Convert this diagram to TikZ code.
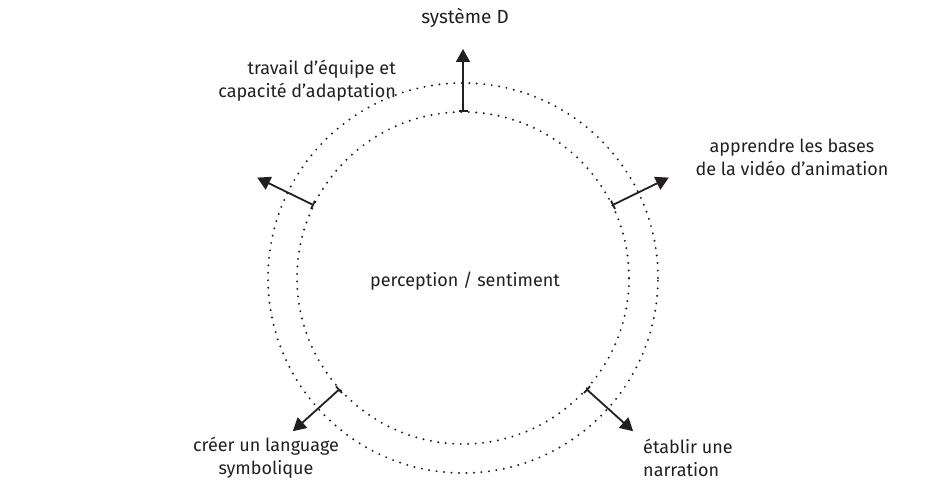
\documentclass[tikz,border=0pt]{standalone}
\usepackage{fontspec}
\setmainfont{Fira Sans}
\usetikzlibrary{arrows.meta,calc}
\definecolor{ink}{HTML}{231F20}
\begin{document}
\begin{tikzpicture}[x=1pt,y=1pt,
  ring/.style={draw=ink, line width=2.2pt, line cap=round, dash pattern=on 0pt off 7.5pt},
  arr/.style={draw=ink, line width=1.8pt, {Bar[width=9pt]}-{Triangle[length=13pt,width=14pt]}},
  lbl/.style={font=\fontsize{18}{23}\selectfont, text=ink, inner sep=0pt}]
\useasboundingbox (0,0) rectangle (932,491);
\coordinate (c) at (463,213);
\draw[ring] (c) circle[radius=166];
\draw[ring] (c) circle[radius=195];
\foreach \n/\a in {1/90, 2/26, 3/154, 4/-42, 5/222}{
  \coordinate (t\n) at ($(c)+(\a:166)$);
  \coordinate (h\n) at ($(c)+(\a:229)$);
  \draw[arr] (t\n) -- (h\n);
}
\node[lbl, font=\fontsize{19}{23}\selectfont] (sys) at (465,473) {système D};
\node[lbl, align=right, anchor=east] (team) at (396,410) {travail d’équipe et\\capacité d’adaptation};
\node[lbl, align=center] (anim) at (792,334) {apprendre les bases\\de la vidéo d’animation};
\node[lbl] (perc) at (465,210) {perception / sentiment};
\node[lbl, align=center] (lang) at (266,33) {créer un language\\symbolique};
\node[lbl, align=left, anchor=west] (narr) at (643,33) {établir une\\narration};
\end{tikzpicture}
\end{document}
